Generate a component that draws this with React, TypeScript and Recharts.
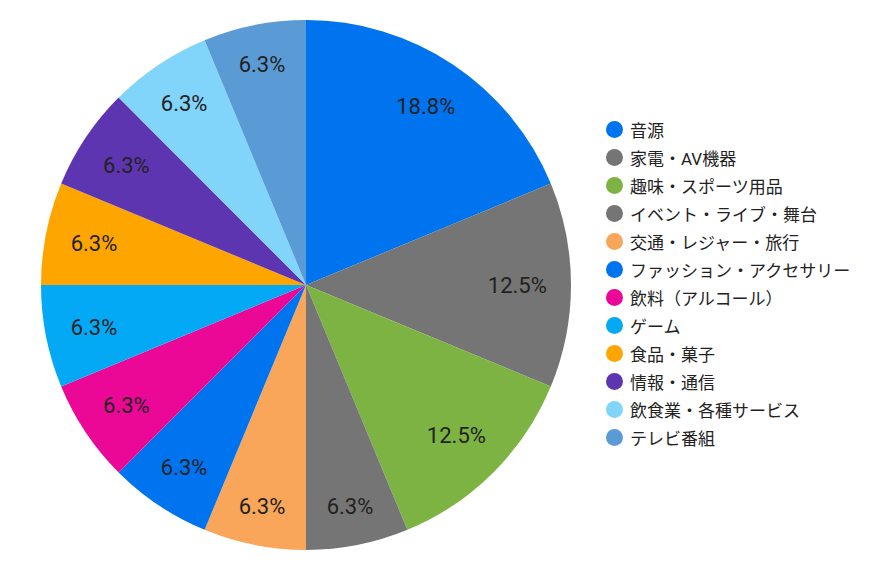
import { PieChart, Pie, Cell, Legend } from "recharts";

const categories = [
  "音源",
  "家電・AV機器",
  "趣味・スポーツ用品",
  "イベント・ライブ・舞台",
  "交通・レジャー・旅行",
  "ファッション・アクセサリー",
  "飲料（アルコール）",
  "ゲーム",
  "食品・菓子",
  "情報・通信",
  "飲食業・各種サービス",
  "テレビ番組",
];

const values = [3, 2, 2, 1, 1, 1, 1, 1, 1, 1, 1, 1];

const colors = [
  "#0073EE",
  "#757575",
  "#7CB342",
  "#757575",
  "#F9A65A",
  "#0073EE",
  "#EC0896",
  "#03A9F4",
  "#FFA500",
  "#5E35B1",
  "#81D4FA",
  "#5B9BD5",
];

const data = categories.map((name, i) => ({ name, value: values[i] }));

const RADIAN = Math.PI / 180;
const FONT = "Roboto, 'Noto Sans CJK JP', sans-serif";
const LABEL_SIZE = 22;

// rough Roboto advance widths, used to keep the label box inside the slice
function textWidth(s: string) {
  let w = 0;
  for (const ch of s) {
    if (ch === ".") w += 0.263;
    else if (ch === "%") w += 0.733;
    else w += 0.562;
  }
  return w * LABEL_SIZE;
}

function renderLabel(props: any) {
  const { cx, cy, midAngle, percent, outerRadius } = props;
  const text = `${(percent * 100).toFixed(1)}%`;
  const ux = Math.cos(-midAngle * RADIAN);
  const uy = Math.sin(-midAngle * RADIAN);
  const w = textWidth(text) / 2;
  const h = 10;
  const R = outerRadius - 24;
  const b = Math.abs(ux) * w + Math.abs(uy) * h;
  const t = -b + Math.sqrt(b * b - (w * w + h * h - R * R));
  const x = cx + t * ux;
  const y = cy + t * uy;
  return (
    <text
      x={x}
      y={y}
      dy="0.36em"
      fill="#222"
      fontSize={LABEL_SIZE}
      fontFamily={FONT}
      textAnchor="middle"
    >
      {text}
    </text>
  );
}

function renderLegend() {
  return (
    <div style={{ fontFamily: FONT, fontSize: 17, color: "#222" }}>
      {categories.map((name, i) => (
        <div
          key={name}
          style={{ display: "flex", alignItems: "center", height: 28 }}
        >
          <span
            style={{
              width: 17,
              height: 17,
              borderRadius: "50%",
              background: colors[i],
              marginRight: 7,
              flexShrink: 0,
            }}
          />
          <span style={{ whiteSpace: "nowrap" }}>{name}</span>
        </div>
      ))}
    </div>
  );
}

export default function App() {
  return (
    <div style={{ margin: -8 }}>
      <PieChart
        width={869}
        height={569}
        margin={{ top: 0, right: 0, bottom: 0, left: 0 }}
      >
        <Pie
          data={data}
          dataKey="value"
          nameKey="name"
          cx={306}
          cy={285}
          outerRadius={265}
          startAngle={90}
          endAngle={-270}
          label={renderLabel}
          labelLine={false}
          stroke="none"
          isAnimationActive={false}
        >
          {data.map((d, i) => (
            <Cell key={d.name} fill={colors[i]} />
          ))}
        </Pie>
        <Legend
          content={renderLegend}
          layout="vertical"
          wrapperStyle={{ position: "absolute", left: 606, top: 115, width: 262 }}
        />
      </PieChart>
    </div>
  );
}
